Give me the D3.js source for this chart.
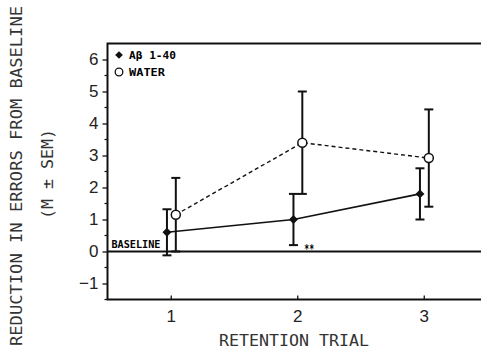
<!DOCTYPE html>
<html>
<head>
<meta charset="utf-8">
<script src="https://cdn.jsdelivr.net/npm/d3@7"></script>
<style>
  body { margin: 0; background: #fff; }
</style>
</head>
<body>
<div id="chart"></div>
<script>
// data
var trials = [1, 2, 3];
var abMean = [0.6, 1.0, 1.8];
var abSem  = [0.72, 0.8, 0.8];
var waterMean = [1.15, 3.4, 2.92];
var waterSem  = [1.15, 1.6, 1.52];
var yTicks = [-1, 0, 1, 2, 3, 4, 5, 6];
var xTicks = [1, 2, 3];

var svgWidth = 481;
var svgHeight = 349;
var mono = "DejaVu Sans Mono, Liberation Mono, monospace";
var sans = "Liberation Sans, Arial, sans-serif";

var svg = d3.select("#chart")
  .append("svg")
  .attr("width", svgWidth)
  .attr("height", svgHeight);

var xScale = d3.scaleLinear()
  .domain([0.5, 3.5])
  .range([107.5, 487]);

var yScale = d3.scaleLinear()
  .domain([-1.5, 6.5])
  .range([299.5, 43.5]);

// frame (right edge runs off the picture)
svg.append("path")
  .attr("d", `M${xScale(3.6)},${yScale(6.5)} H${xScale(0.5)} V${yScale(-1.5)} H${xScale(3.6)}`)
  .attr("fill", "none")
  .attr("stroke", "#111")
  .attr("stroke-width", 2);

// y axis ticks
var yAxis = d3.axisLeft(yScale)
  .tickValues(yTicks)
  .tickSize(5)
  .tickPadding(4)
  .tickFormat(d3.format("d"));

var yG = svg.append("g")
  .attr("transform", `translate(${xScale(0.5)},0)`)
  .call(yAxis);
yG.select(".domain").remove();
yG.selectAll("line").attr("stroke", "#111").attr("stroke-width", 1.3);
yG.selectAll("text")
  .attr("font-size", 17)
  .attr("font-family", sans)
  .attr("fill", "#222")
  .text(d => d < 0 ? "\u2212" + Math.abs(d) : d);

// minor y ticks at halves
svg.selectAll(".minorY")
  .data(d3.range(-1.5, 6.5, 1))
  .enter()
  .append("line")
  .attr("x1", xScale(0.5) - 3)
  .attr("x2", xScale(0.5))
  .attr("y1", d => yScale(d))
  .attr("y2", d => yScale(d))
  .attr("stroke", "#111")
  .attr("stroke-width", 1.2);

// x axis ticks (pointing in)
var xAxis = d3.axisBottom(xScale)
  .tickValues(xTicks)
  .tickSizeInner(-4)
  .tickSizeOuter(0)
  .tickPadding(10)
  .tickFormat(d3.format("d"));

var xG = svg.append("g")
  .attr("transform", `translate(0,${yScale(-1.5)})`)
  .call(xAxis);
xG.select(".domain").remove();
xG.selectAll("line").attr("stroke", "#111").attr("stroke-width", 1.3);
xG.selectAll("text")
  .attr("font-size", 17)
  .attr("font-family", sans)
  .attr("fill", "#222");

// baseline at zero
svg.append("line")
  .attr("x1", xScale(0.5))
  .attr("x2", xScale(3.6))
  .attr("y1", yScale(0))
  .attr("y2", yScale(0))
  .attr("stroke", "#111")
  .attr("stroke-width", 2);

svg.append("text")
  .attr("x", xScale(0.5) + 4)
  .attr("y", yScale(0) - 4)
  .attr("font-size", 10)
  .attr("font-weight", "bold")
  .attr("font-family", mono)
  .attr("textLength", 49)
  .attr("lengthAdjust", "spacingAndGlyphs")
  .text("BASELINE");

// series
var abData = trials.map((t, i) => ({ x: t - 0.03, m: abMean[i], s: abSem[i] }));
var waterData = trials.map((t, i) => ({ x: t + 0.04, m: waterMean[i], s: waterSem[i] }));

var line = d3.line()
  .x(d => xScale(d.x))
  .y(d => yScale(d.m));

svg.append("path")
  .datum(waterData)
  .attr("d", line)
  .attr("fill", "none")
  .attr("stroke", "#111")
  .attr("stroke-width", 1.4)
  .attr("stroke-dasharray", "4,3");

svg.append("path")
  .datum(abData)
  .attr("d", line)
  .attr("fill", "none")
  .attr("stroke", "#111")
  .attr("stroke-width", 1.6);

function errorBars(data, cls) {
  var g = svg.selectAll("." + cls)
    .data(data)
    .enter()
    .append("g")
    .attr("class", cls);
  g.append("line")
    .attr("x1", d => xScale(d.x))
    .attr("x2", d => xScale(d.x))
    .attr("y1", d => yScale(d.m - d.s))
    .attr("y2", d => yScale(d.m + d.s))
    .attr("stroke", "#111")
    .attr("stroke-width", 2);
  g.append("line")
    .attr("x1", d => xScale(d.x) - 4.5)
    .attr("x2", d => xScale(d.x) + 4.5)
    .attr("y1", d => yScale(d.m + d.s))
    .attr("y2", d => yScale(d.m + d.s))
    .attr("stroke", "#111")
    .attr("stroke-width", 2);
  g.append("line")
    .attr("x1", d => xScale(d.x) - 4.5)
    .attr("x2", d => xScale(d.x) + 4.5)
    .attr("y1", d => yScale(d.m - d.s))
    .attr("y2", d => yScale(d.m - d.s))
    .attr("stroke", "#111")
    .attr("stroke-width", 2);
}
errorBars(abData, "abErr");
errorBars(waterData, "waterErr");

// diamond = square turned 45 degrees
var diamond = d3.symbol().type(d3.symbolSquare).size(40);

svg.selectAll(".abPt")
  .data(abData)
  .enter()
  .append("path")
  .attr("class", "abPt")
  .attr("d", diamond)
  .attr("transform", d => `translate(${xScale(d.x)},${yScale(d.m)}) rotate(45)`)
  .attr("fill", "#111");

svg.selectAll(".waterPt")
  .data(waterData)
  .enter()
  .append("circle")
  .attr("class", "waterPt")
  .attr("cx", d => xScale(d.x))
  .attr("cy", d => yScale(d.m))
  .attr("r", 4.5)
  .attr("fill", "#fff")
  .attr("stroke", "#111")
  .attr("stroke-width", 1.5);

// significance mark
svg.append("text")
  .attr("x", xScale(2) + 7)
  .attr("y", yScale(0) + 1)
  .attr("font-size", 12)
  .attr("font-weight", "bold")
  .attr("font-family", mono)
  .attr("textLength", 10)
  .attr("lengthAdjust", "spacingAndGlyphs")
  .text("**");

// legend
svg.append("path")
  .attr("d", d3.symbol().type(d3.symbolSquare).size(30))
  .attr("transform", "translate(119,55) rotate(45)")
  .attr("fill", "#111");
svg.append("circle")
  .attr("cx", 119)
  .attr("cy", 72)
  .attr("r", 3.8)
  .attr("fill", "#fff")
  .attr("stroke", "#111")
  .attr("stroke-width", 1.3);

svg.append("text")
  .attr("x", 129)
  .attr("y", 59)
  .attr("font-size", 11)
  .attr("font-weight", "bold")
  .attr("font-family", mono)
  .attr("textLength", 47)
  .attr("lengthAdjust", "spacingAndGlyphs")
  .text("A\u03b2 1-40");
svg.append("text")
  .attr("x", 129)
  .attr("y", 76)
  .attr("font-size", 11)
  .attr("font-weight", "bold")
  .attr("font-family", mono)
  .attr("textLength", 36)
  .attr("lengthAdjust", "spacingAndGlyphs")
  .text("WATER");

// axis titles
svg.append("text")
  .attr("transform", "translate(22,176) rotate(-90)")
  .attr("text-anchor", "middle")
  .attr("font-size", 15)
  .attr("font-family", mono)
  .attr("fill", "#333")
  .attr("textLength", 340)
  .attr("lengthAdjust", "spacingAndGlyphs")
  .text("REDUCTION IN ERRORS FROM BASELINE");

svg.append("text")
  .attr("transform", "translate(53,174) rotate(-90)")
  .attr("text-anchor", "middle")
  .attr("font-size", 15)
  .attr("font-family", mono)
  .attr("fill", "#333")
  .attr("textLength", 90)
  .attr("lengthAdjust", "spacingAndGlyphs")
  .text("(M \u00b1 SEM)");

svg.append("text")
  .attr("x", 294)
  .attr("y", 346)
  .attr("text-anchor", "middle")
  .attr("font-size", 15)
  .attr("font-family", mono)
  .attr("fill", "#333")
  .attr("textLength", 150)
  .attr("lengthAdjust", "spacingAndGlyphs")
  .text("RETENTION TRIAL");
</script>
</body>
</html>
